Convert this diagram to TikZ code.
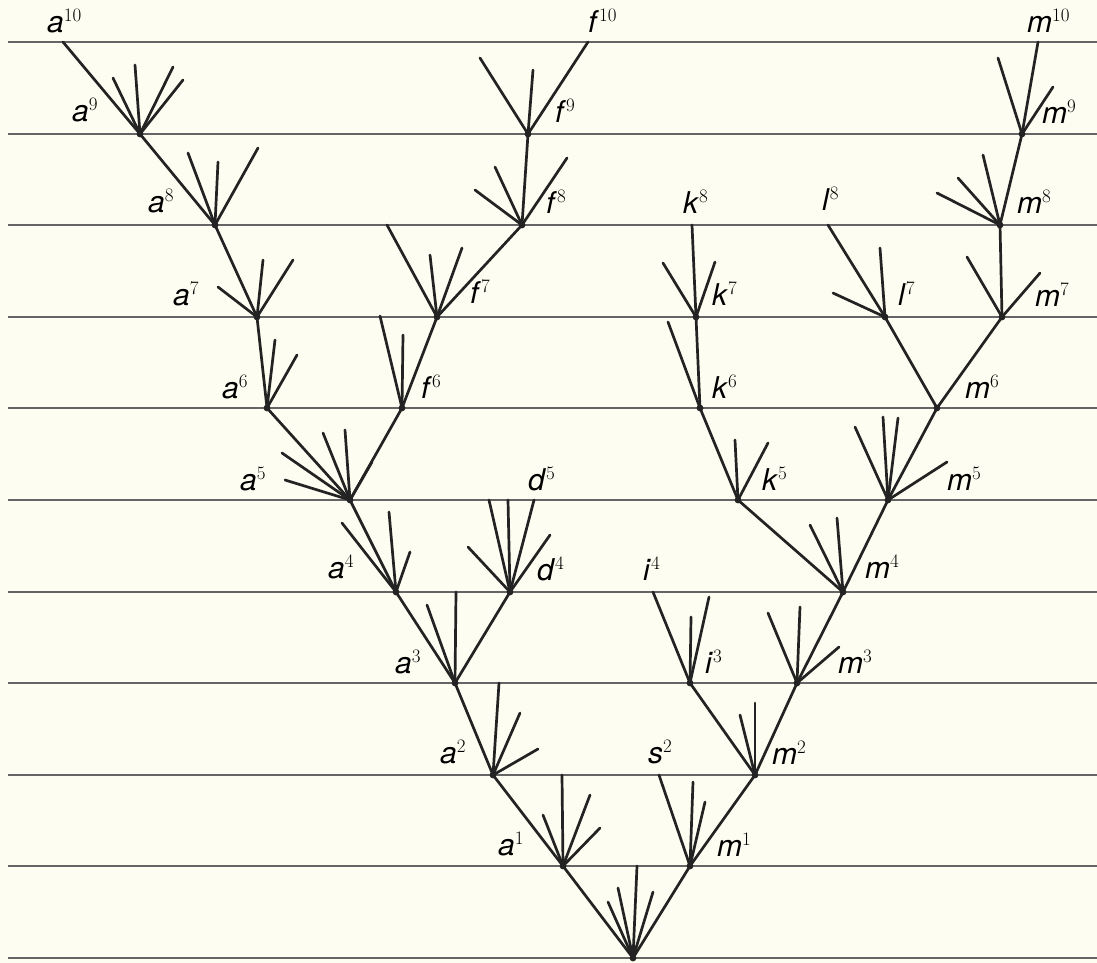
\documentclass[tikz,border=0pt]{standalone}
\usepackage{fontspec}
\newfontfamily\lblfont{TeX Gyre Heros}
\usetikzlibrary{positioning}
\definecolor{paper}{RGB}{254,253,241}
\definecolor{ink}{RGB}{35,35,35}
\newcommand{\lab}[2]{\textit{#1}\raisebox{11pt}{\rmfamily\fontsize{19}{19}\selectfont #2}}

\begin{document}
\begin{tikzpicture}[x=1pt, y=-1pt,
  br/.style={ink, line width=2.7pt, line cap=round},
  lvl/.style={ink!70, line width=2pt},
  lbl/.style={font=\lblfont\fontsize{30}{30}\selectfont, inner sep=0pt, anchor=base west}]

\fill[paper] (0,0) rectangle (1097,963);
\useasboundingbox (0,0) rectangle (1097,963);

\foreach \l in {0,...,10}
  \draw[lvl] (8,{round(958-91.6*\l)}) -- (1097,{round(958-91.6*\l)});

% branching points, x and level
\foreach \n/\x/\l in {o/633/0, a1/563/1, a2/493/2, a3/455/3, a4/396/4, a5/350/5,
    a6/267/6, a7/257/7, a8/215/8, a9/140/9, a10/63/10,
    f6/402/6, f7/437/7, f8/522/8, f9/528/9, f10/588/10,
    d4/510/4, d5/534/5, i3/690/3, i4/653/4, s2/659/2,
    k5/738/5, k6/700/6, k7/696/7, k8/692/8, l7/885/7, l8/828/8,
    m1/690/1, m2/755/2, m3/797/3, m4/843/4, m5/888/5, m6/937/6,
    m7/1002/7, m8/1000/8, m9/1022/9, m10/1038/10}
  \coordinate (\n) at (\x,{round(958-91.6*\l)});

\foreach \u/\v in {o/a1, o/m1, a1/a2, a2/a3, a3/a4, a3/d4, d4/d5, a4/a5, a5/a6,
    a5/f6, a6/a7, a7/a8, a8/a9, a9/a10, f6/f7, f7/f8, f8/f9, f9/f10,
    m1/s2, m1/m2, m2/i3, m2/m3, i3/i4, m3/m4, m4/k5, m4/m5, k5/k6, k6/k7,
    k7/k8, m5/m6, m6/l7, m6/m7, l7/l8, m7/m8, m8/m9, m9/m10}
  \draw[br] (\u) -- (\v);

% dead branches
\foreach \n/\x/\y [count=\i] in {o/608/902, o/618/888, o/637/866, o/653/892,
    a1/543/815, a1/562/775, a1/590/795, a1/600/828, m1/693/782, m1/705/802,
    a2/499/683, a2/520/713, a2/538/749, m2/740/715, m2/755/703,
    a3/427/605, a3/456/592, i3/691/617, i3/709/597, m3/768/613, m3/800/607, m3/839/647,
    a4/342/523, a4/389/512, a4/410/552, d4/468/547, d4/489/500, d4/508/500, d4/550/535,
    m4/810/525, m4/837/518,
    a5/282/453, a5/285/480, a5/323/433, a5/345/430, a5/372/462,
    k5/735/440, k5/768/443, m5/855/427, m5/883/417, m5/898/418, m5/947/462,
    a6/275/340, a6/297/355, f6/380/316, f6/403/335, k6/668/322,
    a7/218/287, a7/263/260, a7/293/260, f7/387/225, f7/430/255, f7/462/248,
    k7/663/263, k7/715/262, l7/833/293, l7/880/248, m7/967/257, m7/1040/273,
    a8/188/153, a8/218/162, a8/258/148, f8/475/190, f8/495/167, f8/567/158,
    m8/937/193, m8/958/178, m8/983/155,
    a9/113/78, a9/135/65, a9/173/67, a9/183/80, f9/480/58, f9/533/70,
    m9/998/58, m9/1053/87} {
  \coordinate (s\i) at (\x,\y);
  \draw[br] (\n) -- (s\i);
}

\foreach \n in {o, a1, a2, a3, a4, a5, a6, a7, a8, a9, f6, f7, f8, f9, d4,
    i3, k5, k6, k7, l7, m1, m2, m3, m4, m5, m6, m7, m8, m9}
  \fill[ink] (\n) circle (3.4pt);

\foreach \c/\s/\x/\y in {a/10/47/33, a/9/72/122, a/8/148/212, a/7/173/305,
    a/6/222/398, a/5/240/490, a/4/328/578, a/3/395/673, a/2/440/763, a/1/498/855,
    f/10/588/33, f/9/555/123, f/8/546/213, f/7/470/303, f/6/421/398,
    d/5/528/490, d/4/537/580, i/4/643/580, i/3/705/673, s/2/648/763,
    k/8/683/213, k/7/712/305, k/6/712/398, k/5/762/490, l/8/822/210, l/7/898/305,
    m/10/1027/33, m/9/1042/124, m/8/1017/213, m/7/1035/306, m/6/965/398,
    m/5/947/490, m/4/865/578, m/3/838/673, m/2/772/764, m/1/717/856}
  \node[lbl] (t\c\s) at (\x,\y) {\lab{\c}{\s}};

\end{tikzpicture}
\end{document}
